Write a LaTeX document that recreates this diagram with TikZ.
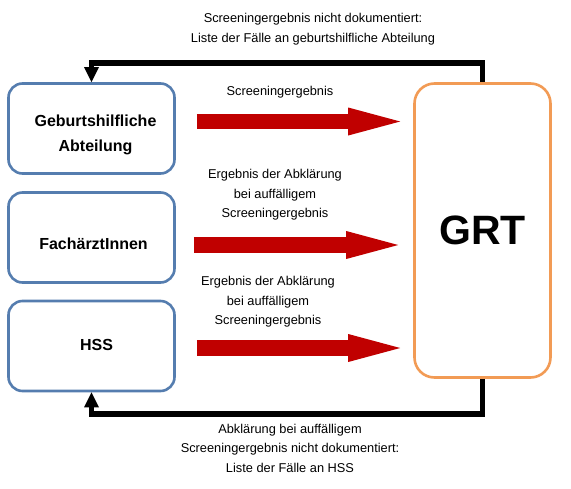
\documentclass[tikz,border=0pt]{standalone}
\usepackage{fontspec}
\setmainfont{Liberation Sans}
\usetikzlibrary{arrows.meta, positioning, calc}
\definecolor{boxblue}{RGB}{85, 125, 175}
\definecolor{grtorange}{RGB}{242, 155, 85}
\definecolor{arrowred}{RGB}{192, 0, 0}

\begin{document}
\begin{tikzpicture}[x=1pt, y=-1pt]
                    \useasboundingbox (0,0) rectangle (571,488);
                    \tikzset{
                      party/.style={draw=boxblue, line width=2.6pt, rounded corners=14pt, fill=white,
                        minimum width=166pt, minimum height=90pt},
                      partytext/.style={align=center, font=\fontsize{16}{25}\selectfont\bfseries},
                      grtbox/.style={draw=grtorange, line width=2.6pt, rounded corners=20pt,
                        minimum width=136pt, minimum height=294pt, font=\fontsize{41}{45}\selectfont\bfseries},
                      bigarrow/.style={arrowred, line width=15.5pt,
                        -{Triangle[length=52pt, width=28pt, line width=0pt]}},
                      feedback/.style={line width=5.5pt, -{Triangle[length=15pt, width=15pt, line width=0pt]}},
                      lbl/.style={align=center, font=\fontsize{12.8}{19.5}\selectfont}
                    }

                    % Senders
                    \node[party] (geb) at (91.5, 128.5) {};
                    \node[party] (fach) at (91.5, 237.5) {};
                    \node[party] (hss) at (91.5, 346) {};
                    \node[partytext] (tgeb) at ([xshift=4pt, yshift=-6pt]geb.center) {Geburtshilfliche\\Abteilung};
                    \node[partytext] (tfach) at ([xshift=2pt, yshift=-6.5pt]fach.center) {FachärztInnen};
                    \node[partytext] (thss) at ([xshift=5pt, yshift=1pt]hss.center) {HSS};

                    % Register
                    \node[grtbox] (grt) at (482.5, 230.5) {GRT};

                    % Reports to GRT
                    \draw[bigarrow, shorten <=21pt, shorten >=13pt] ([yshift=7pt]geb.east) -- ([yshift=7pt]geb.east -| grt.west);
                    \draw[bigarrow, shorten <=18pt, shorten >=15pt] ([yshift=-7.5pt]fach.east) -- ([yshift=-7.5pt]fach.east -| grt.west);
                    \draw[bigarrow, shorten <=21pt, shorten >=13pt] ([yshift=-2pt]hss.east) -- ([yshift=-2pt]hss.east -| grt.west);

                    % Feedback lists
                    \draw[feedback] (grt.north) -- ++(0,-19) -| (geb.north);
                    \draw[feedback] (grt.south) -- ++(0,35) -| (hss.south);

                    % Labels
                    \node[lbl] (lgeb) at (280, 92) {Screeningergebnis};
                    \node[lbl] (lfach) at (275, 195) {Ergebnis der Abklärung\\bei auffälligem\\Screeningergebnis};
                    \node[lbl] (lhss) at (268, 302) {Ergebnis der Abklärung\\bei auffälligem\\Screeningergebnis};
                    \node[lbl] (ltop) at (313, 29) {Screeningergebnis nicht dokumentiert:\\Liste der Fälle an geburtshilfliche Abteilung};
                    \node[lbl] (lbot) at (290, 448) {Abklärung bei auffälligem\\Screeningergebnis nicht dokumentiert:\\Liste der Fälle an HSS};
                \end{tikzpicture}
\end{document}
